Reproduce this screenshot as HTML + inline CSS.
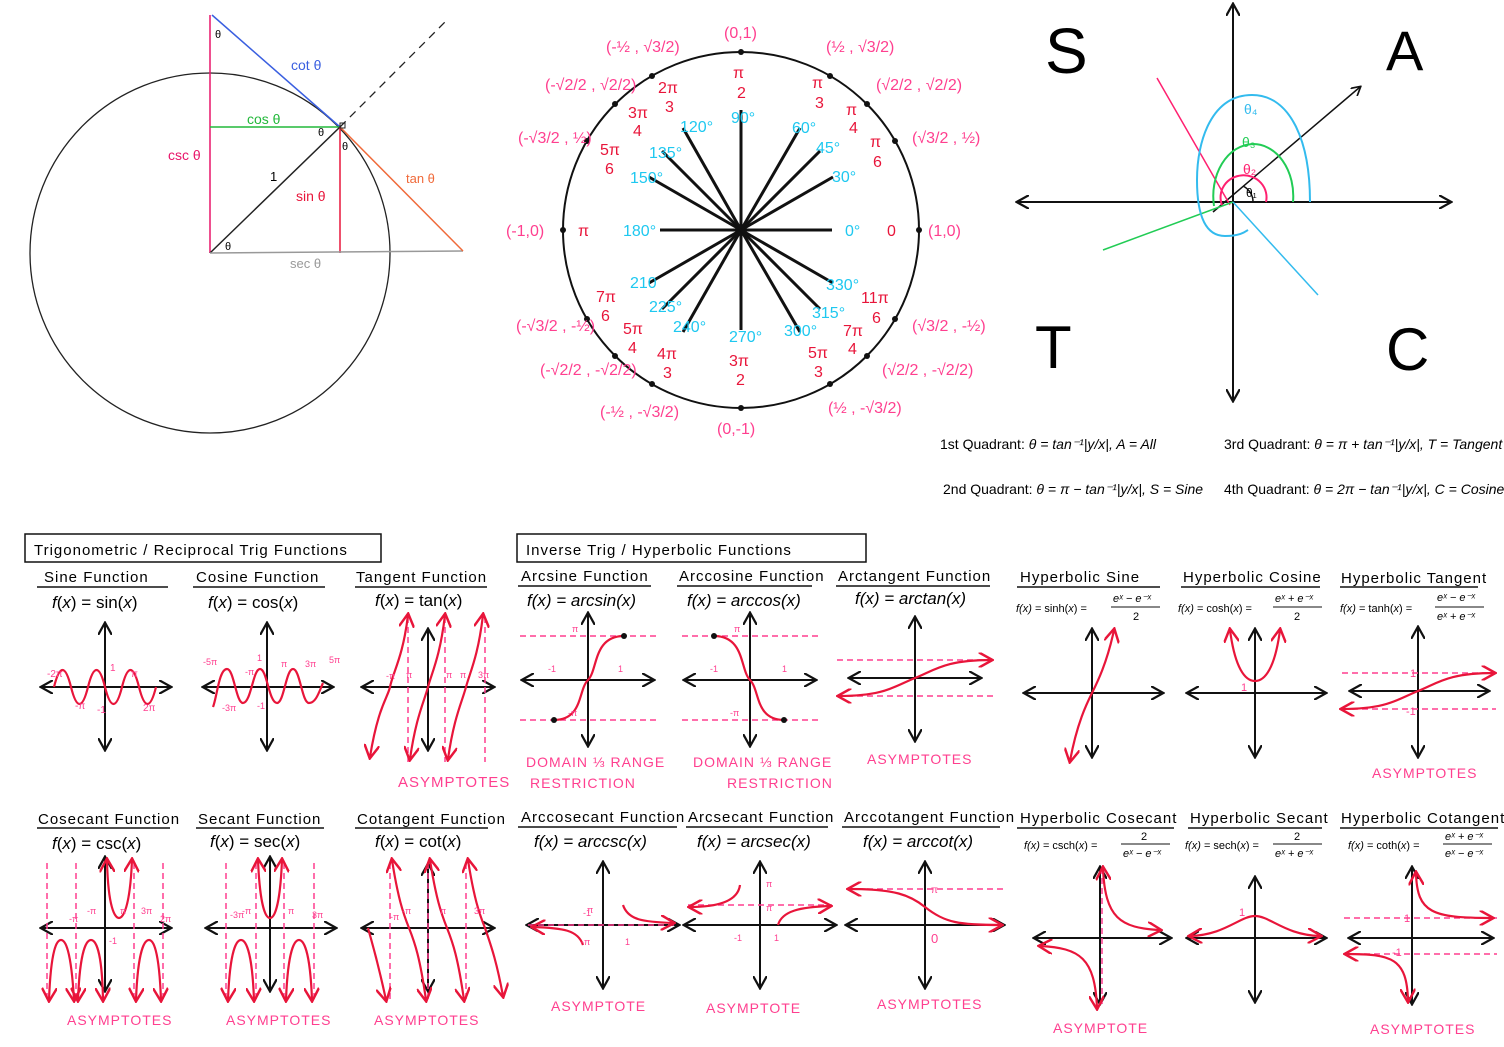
<!DOCTYPE html>
<html><head><meta charset="utf-8"><style>
body{margin:0;background:#fff;}
svg{display:block;}
text{font-family:"Liberation Sans",sans-serif;}
.s{font-family:"Liberation Serif",serif;}
.h{font-size:15px;letter-spacing:1px;}
.f{font-family:"Liberation Serif",serif;font-size:17px;}
.p{fill:#ff3f8f;}
.r{fill:#e8153a;}
.b{fill:#1ec8f0;}
.ax{stroke:#111;stroke-width:2;fill:none;marker-end:url(#ak);marker-start:url(#ak);}
.cv{stroke:#e8153a;stroke-width:2.2;fill:none;}
.as{stroke:#ff3f8f;stroke-width:1.5;stroke-dasharray:6 4;fill:none;}
.ul{stroke:#111;stroke-width:1.5;}
</style></head><body>
<svg width="1504" height="1047" viewBox="0 0 1504 1047" xmlns="http://www.w3.org/2000/svg">
<defs>
<marker id="ak" viewBox="0 0 10 10" refX="8" refY="5" markerWidth="7" markerHeight="7" orient="auto-start-reverse"><path d="M0,0 L9,5 L0,10" fill="none" stroke="#111" stroke-width="1.6"/></marker>
<marker id="ar" viewBox="0 0 10 10" refX="8" refY="5" markerWidth="7" markerHeight="7" orient="auto-start-reverse"><path d="M0,0 L9,5 L0,10" fill="none" stroke="#e8153a" stroke-width="1.6"/></marker>
</defs>

<!-- ===== Section 1 ===== -->
<circle cx="210" cy="253" r="180" fill="none" stroke="#222" stroke-width="1.3"/>
<line x1="210" y1="15" x2="210" y2="253" stroke="#e8156a" stroke-width="1.5"/>
<line x1="212" y1="15" x2="340" y2="127" stroke="#3a5fe0" stroke-width="1.5"/>
<line x1="210" y1="127" x2="340" y2="127" stroke="#22b83a" stroke-width="1.5"/>
<line x1="210" y1="253" x2="340" y2="127" stroke="#222" stroke-width="1.5"/>
<line x1="340" y1="127" x2="340" y2="253" stroke="#e8153a" stroke-width="1.5"/>
<line x1="210" y1="253" x2="463" y2="251" stroke="#999" stroke-width="1.5"/>
<line x1="340" y1="127" x2="463" y2="251" stroke="#f06a3a" stroke-width="1.5"/>
<line x1="340" y1="127" x2="447" y2="20" stroke="#222" stroke-width="1.3" stroke-dasharray="8 6"/>
<rect x="340" y="123" width="5" height="5" fill="none" stroke="#222"/>
<text x="215" y="38" font-size="11">θ</text>
<text x="291" y="70" font-size="14" fill="#3a5fe0">cot θ</text>
<text x="247" y="124" font-size="14" fill="#22b83a">cos θ</text>
<text x="318" y="136" font-size="11">θ</text>
<text x="342" y="150" font-size="11">θ</text>
<text x="168" y="160" font-size="14" fill="#e8156a">csc θ</text>
<text x="270" y="181" font-size="13">1</text>
<text x="296" y="201" font-size="14" fill="#e8153a">sin θ</text>
<text x="406" y="183" font-size="13" fill="#f06a3a">tan θ</text>
<text x="225" y="250" font-size="11">θ</text>
<text x="290" y="268" font-size="13" fill="#999">sec θ</text>

<!-- ===== Section 2 ===== -->
<circle cx="741" cy="230" r="178" fill="none" stroke="#111" stroke-width="2"/>
<g stroke="#111" stroke-width="3">
<line x1="741" y1="230" x2="741" y2="110"/>
<line x1="741" y1="230" x2="741" y2="330"/>
<line x1="741" y1="230" x2="832" y2="230"/>
<line x1="741" y1="230" x2="660" y2="230"/>
<line x1="741" y1="230" x2="833" y2="177"/>
<line x1="741" y1="230" x2="820" y2="151"/>
<line x1="741" y1="230" x2="800" y2="128"/>
<line x1="741" y1="230" x2="683" y2="128"/>
<line x1="741" y1="230" x2="662" y2="151"/>
<line x1="741" y1="230" x2="649" y2="177"/>
<line x1="741" y1="230" x2="649" y2="283"/>
<line x1="741" y1="230" x2="662" y2="309"/>
<line x1="741" y1="230" x2="683" y2="332"/>
<line x1="741" y1="230" x2="800" y2="332"/>
<line x1="741" y1="230" x2="820" y2="309"/>
<line x1="741" y1="230" x2="833" y2="283"/>
</g>
<g fill="#111">
<circle cx="741" cy="52" r="3"/><circle cx="741" cy="408" r="3"/><circle cx="563" cy="230" r="3"/><circle cx="919" cy="230" r="3"/>
<circle cx="895" cy="141" r="3"/><circle cx="867" cy="104" r="3"/><circle cx="830" cy="76" r="3"/>
<circle cx="652" cy="76" r="3"/><circle cx="615" cy="104" r="3"/><circle cx="587" cy="141" r="3"/>
<circle cx="587" cy="319" r="3"/><circle cx="615" cy="356" r="3"/><circle cx="652" cy="384" r="3"/>
<circle cx="830" cy="384" r="3"/><circle cx="867" cy="356" r="3"/><circle cx="895" cy="319" r="3"/>
</g>
<g font-size="16" class="b">
<text x="731" y="123">90°</text><text x="680" y="132">120°</text><text x="649" y="158">135°</text><text x="630" y="183">150°</text>
<text x="623" y="236">180°</text><text x="630" y="288">210</text><text x="649" y="312">225°</text><text x="673" y="332">240°</text>
<text x="729" y="342">270°</text><text x="784" y="336">300°</text><text x="812" y="318">315°</text><text x="826" y="290">330°</text>
<text x="845" y="236">0°</text><text x="832" y="182">30°</text><text x="816" y="153">45°</text><text x="792" y="133">60°</text>
</g>
<g font-size="16" class="r s">
<text x="733" y="78">π</text><text x="737" y="98">2</text>
<text x="812" y="88">π</text><text x="815" y="108">3</text>
<text x="846" y="115">π</text><text x="849" y="133">4</text>
<text x="870" y="147">π</text><text x="873" y="167">6</text>
<text x="887" y="236">0</text><text x="578" y="236">π</text>
<text x="658" y="93">2π</text><text x="665" y="112">3</text>
<text x="628" y="118">3π</text><text x="633" y="136">4</text>
<text x="600" y="155">5π</text><text x="605" y="174">6</text>
<text x="596" y="302">7π</text><text x="601" y="321">6</text>
<text x="623" y="334">5π</text><text x="628" y="353">4</text>
<text x="657" y="359">4π</text><text x="663" y="378">3</text>
<text x="729" y="366">3π</text><text x="736" y="385">2</text>
<text x="808" y="358">5π</text><text x="814" y="377">3</text>
<text x="843" y="336">7π</text><text x="848" y="354">4</text>
<text x="861" y="303">11π</text><text x="872" y="323">6</text>
</g>
<g font-size="16" class="p">
<text x="724" y="38">(0,1)</text><text x="717" y="434">(0,-1)</text><text x="506" y="236">(-1,0)</text><text x="928" y="236">(1,0)</text>
<text x="606" y="52">(-½ , √3/2)</text><text x="826" y="52">(½ , √3/2)</text>
<text x="545" y="90">(-√2/2 , √2/2)</text><text x="876" y="90">(√2/2 , √2/2)</text>
<text x="518" y="143">(-√3/2 , ½)</text><text x="912" y="143">(√3/2 , ½)</text>
<text x="516" y="331">(-√3/2 , -½)</text><text x="912" y="331">(√3/2 , -½)</text>
<text x="540" y="375">(-√2/2 , -√2/2)</text><text x="882" y="375">(√2/2 , -√2/2)</text>
<text x="600" y="417">(-½ , -√3/2)</text><text x="828" y="413">(½ , -√3/2)</text>
</g>

<!-- ===== Section 3 ===== -->
<line x1="1018" y1="202" x2="1450" y2="202" class="ax"/>
<line x1="1233" y1="5" x2="1233" y2="400" class="ax"/>
<text x="1045" y="73" font-size="64">S</text>
<text x="1386" y="70" font-size="56">A</text>
<text x="1035" y="368" font-size="60">T</text>
<text x="1386" y="370" font-size="60">C</text>
<line x1="1213" y1="212" x2="1360" y2="87" stroke="#111" stroke-width="1.5" marker-end="url(#ak)"/>
<line x1="1230" y1="205" x2="1157" y2="78" stroke="#ff2070" stroke-width="1.5"/>
<line x1="1233" y1="202" x2="1103" y2="250" stroke="#22cc55" stroke-width="1.5"/>
<line x1="1233" y1="202" x2="1318" y2="295" stroke="#33bbee" stroke-width="1.5"/>
<path d="M1253,202 A20,18 0 0 0 1243,186" stroke="#111" stroke-width="1.5" fill="none"/>
<path d="M1266,202 A23,22 0 1 0 1222,205" stroke="#ff2070" stroke-width="2" fill="none"/>
<path d="M1293,202 A40,52 0 1 0 1214,206" stroke="#22cc55" stroke-width="2" fill="none"/>
<path d="M1310,202 C1310,140 1290,95 1252,95 C1212,95 1197,140 1197,180 C1197,215 1205,236 1225,236 C1240,236 1245,232 1248,230" stroke="#33bbee" stroke-width="2" fill="none"/>
<text x="1244" y="114" font-size="14" fill="#33bbee">θ₄</text>
<text x="1242" y="147" font-size="14" fill="#22cc55">θ₃</text>
<text x="1243" y="174" font-size="14" fill="#ff2070">θ₂</text>
<text x="1246" y="197" font-size="12">θ₁</text>
<g class="s" font-size="14" font-style="italic">
<text x="940" y="449"><tspan font-style="normal">1st Quadrant:</tspan> θ = tan⁻¹|y/x|, A = All</text>
<text x="1224" y="449"><tspan font-style="normal">3rd Quadrant:</tspan> θ = π + tan⁻¹|y/x|, T = Tangent</text>
<text x="943" y="494"><tspan font-style="normal">2nd Quadrant:</tspan> θ = π − tan⁻¹|y/x|, S = Sine</text>
<text x="1224" y="494"><tspan font-style="normal">4th Quadrant:</tspan> θ = 2π − tan⁻¹|y/x|, C = Cosine</text>
</g>

<!-- ===== Headers ===== -->
<rect x="25" y="534" width="356" height="28" fill="none" stroke="#111" stroke-width="1.5"/>
<text x="34" y="555" class="h" font-size="16">Trigonometric / Reciprocal Trig Functions</text>
<rect x="517" y="534" width="349" height="28" fill="none" stroke="#111" stroke-width="1.5"/>
<text x="526" y="555" class="h" font-size="17">Inverse Trig / Hyperbolic Functions</text>

<g class="h">
<text x="44" y="582">Sine Function</text><text x="196" y="582">Cosine Function</text><text x="356" y="582">Tangent Function</text>
<text x="521" y="581">Arcsine Function</text><text x="679" y="581">Arccosine Function</text><text x="838" y="581">Arctangent Function</text>
<text x="1020" y="582">Hyperbolic Sine</text><text x="1183" y="582">Hyperbolic Cosine</text><text x="1341" y="583">Hyperbolic Tangent</text>
<text x="38" y="824">Cosecant Function</text><text x="198" y="824">Secant Function</text><text x="357" y="824">Cotangent Function</text>
<text x="521" y="822">Arccosecant Function</text><text x="688" y="822">Arcsecant Function</text><text x="844" y="822">Arccotangent Function</text>
<text x="1020" y="823">Hyperbolic Cosecant</text><text x="1190" y="823">Hyperbolic Secant</text><text x="1341" y="823">Hyperbolic Cotangent</text>
</g>
<g class="ul">
<line x1="37" y1="587" x2="168" y2="587"/><line x1="193" y1="587" x2="325" y2="587"/><line x1="355" y1="587" x2="487" y2="587"/>
<line x1="518" y1="586" x2="651" y2="586"/><line x1="677" y1="586" x2="812" y2="586"/><line x1="836" y1="586" x2="990" y2="586"/>
<line x1="1017" y1="587" x2="1160" y2="587"/><line x1="1181" y1="587" x2="1320" y2="587"/><line x1="1340" y1="587" x2="1478" y2="587"/>
<line x1="37" y1="828" x2="170" y2="828"/><line x1="196" y1="828" x2="324" y2="828"/><line x1="355" y1="828" x2="488" y2="828"/>
<line x1="518" y1="827" x2="677" y2="827"/><line x1="686" y1="827" x2="828" y2="827"/><line x1="842" y1="827" x2="1000" y2="827"/>
<line x1="1017" y1="828" x2="1174" y2="828"/><line x1="1188" y1="828" x2="1322" y2="828"/><line x1="1340" y1="828" x2="1498" y2="828"/>
</g>
<g class="f">
<text x="52" y="608"><tspan font-style="italic">f</tspan>(<tspan font-style="italic">x</tspan>) = sin(<tspan font-style="italic">x</tspan>)</text>
<text x="208" y="608"><tspan font-style="italic">f</tspan>(<tspan font-style="italic">x</tspan>) = cos(<tspan font-style="italic">x</tspan>)</text>
<text x="375" y="606"><tspan font-style="italic">f</tspan>(<tspan font-style="italic">x</tspan>) = tan(<tspan font-style="italic">x</tspan>)</text>
<text x="527" y="606" font-style="italic">f(x) = arcsin(x)</text>
<text x="687" y="606" font-style="italic">f(x) = arccos(x)</text>
<text x="855" y="604" font-style="italic">f(x) = arctan(x)</text>
<text x="52" y="849"><tspan font-style="italic">f</tspan>(<tspan font-style="italic">x</tspan>) = csc(<tspan font-style="italic">x</tspan>)</text>
<text x="210" y="847"><tspan font-style="italic">f</tspan>(<tspan font-style="italic">x</tspan>) = sec(<tspan font-style="italic">x</tspan>)</text>
<text x="375" y="847"><tspan font-style="italic">f</tspan>(<tspan font-style="italic">x</tspan>) = cot(<tspan font-style="italic">x</tspan>)</text>
<text x="534" y="847" font-style="italic">f(x) = arccsc(x)</text>
<text x="697" y="847" font-style="italic">f(x) = arcsec(x)</text>
<text x="863" y="847" font-style="italic">f(x) = arccot(x)</text>
</g>
<g class="s" font-size="11">
<text x="1016" y="612"><tspan font-style="italic">f(x)</tspan> = sinh(<tspan font-style="italic">x</tspan>) = </text><text x="1113" y="602" font-style="italic">eˣ − e⁻ˣ</text><line x1="1111" y1="607" x2="1160" y2="607" stroke="#111"/><text x="1133" y="620">2</text>
<text x="1178" y="612"><tspan font-style="italic">f(x)</tspan> = cosh(<tspan font-style="italic">x</tspan>) = </text><text x="1275" y="602" font-style="italic">eˣ + e⁻ˣ</text><line x1="1273" y1="607" x2="1322" y2="607" stroke="#111"/><text x="1294" y="620">2</text>
<text x="1340" y="612"><tspan font-style="italic">f(x)</tspan> = tanh(<tspan font-style="italic">x</tspan>) = </text><text x="1437" y="601" font-style="italic">eˣ − e⁻ˣ</text><line x1="1435" y1="607" x2="1484" y2="607" stroke="#111"/><text x="1437" y="620" font-style="italic">eˣ + e⁻ˣ</text>
<text x="1024" y="849"><tspan font-style="italic">f(x)</tspan> = csch(<tspan font-style="italic">x</tspan>) = </text><line x1="1121" y1="844" x2="1170" y2="844" stroke="#111"/><text x="1141" y="840">2</text><text x="1123" y="857" font-style="italic">eˣ − e⁻ˣ</text>
<text x="1185" y="849"><tspan font-style="italic">f(x)</tspan> = sech(<tspan font-style="italic">x</tspan>) = </text><line x1="1273" y1="844" x2="1322" y2="844" stroke="#111"/><text x="1294" y="840">2</text><text x="1275" y="857" font-style="italic">eˣ + e⁻ˣ</text>
<text x="1348" y="849"><tspan font-style="italic">f(x)</tspan> = coth(<tspan font-style="italic">x</tspan>) = </text><text x="1445" y="840" font-style="italic">eˣ + e⁻ˣ</text><line x1="1443" y1="844" x2="1492" y2="844" stroke="#111"/><text x="1445" y="857" font-style="italic">eˣ − e⁻ˣ</text>
</g>

<!-- sine -->
<g transform="translate(105,687)">
<line x1="-63" y1="0" x2="65" y2="0" class="ax"/><line x1="0" y1="-63" x2="0" y2="62" class="ax"/>
<path d="M-51,0 q8.5,34 17,0 t17,0 t17,0 t17,0 t17,0 t17,0" class="cv" transform="scale(1,-1)"/>
<g font-size="10" class="p"><text x="-58" y="-10">-2π</text><text x="-30" y="22">-π</text><text x="5" y="-16">1</text><text x="-8" y="26">-1</text><text x="26" y="-10">π</text><text x="38" y="24">2π</text></g>
</g>
<!-- cosine -->
<g transform="translate(267,687)">
<line x1="-63" y1="0" x2="65" y2="0" class="ax"/><line x1="0" y1="-63" x2="0" y2="62" class="ax"/>
<path d="M-54,20 C-50,10 -48,-18 -40,-18 C-33,-18 -31,16 -24,16 C-16,16 -14,-18 -7,-18 C0,-18 2,16 10,16 C17,16 19,-18 26,-18 C33,-18 35,16 42,16 C49,16 52,5 56,-4" class="cv"/>
<g font-size="9" class="p"><text x="-64" y="-22">-5π</text><text x="-22" y="-12">-π</text><text x="-10" y="-26">1</text><text x="14" y="-20">π</text><text x="38" y="-20">3π</text><text x="62" y="-24">5π</text><text x="-45" y="24">-3π</text><text x="-10" y="22">-1</text></g>
</g>
<!-- tangent -->
<g transform="translate(428,687)">
<line x1="-65" y1="0" x2="65" y2="0" class="ax"/><line x1="0" y1="-57" x2="0" y2="62" class="ax"/>
<path d="M-20,-70 V75 M17,-70 V75 M57,-70 V75" class="as"/>
<path d="M-58,70 C-50,20 -40,10 -38,0 C-35,-15 -25,-30 -20,-72" class="cv" marker-end="url(#ar)" marker-start="url(#ar)"/>
<path d="M-18,72 C-12,30 -4,15 0,0 C4,-15 12,-30 17,-72" class="cv" marker-end="url(#ar)" marker-start="url(#ar)"/>
<path d="M20,72 C26,30 34,15 38,0 C42,-15 50,-30 55,-72" class="cv" marker-end="url(#ar)" marker-start="url(#ar)"/>
<g font-size="9" class="p"><text x="-42" y="-8">-π</text><text x="-22" y="-9">π</text><text x="18" y="-9">π</text><text x="32" y="-9">π</text><text x="50" y="-9">3π</text></g>
<text x="-30" y="100" class="p" font-size="15" letter-spacing="1">ASYMPTOTES</text>
</g>
<!-- arcsin -->
<g transform="translate(588,680)">
<line x1="-65" y1="0" x2="65" y2="0" class="ax"/><line x1="0" y1="-66" x2="0" y2="65" class="ax"/>
<path d="M-68,-44 H70 M-68,40 H70" class="as"/>
<path d="M-34,40 C-5,40 -10,10 0,0 C10,-10 5,-44 36,-44" class="cv"/>
<circle cx="-34" cy="40" r="3" fill="#111"/><circle cx="36" cy="-44" r="3" fill="#111"/>
<g font-size="9" class="p"><text x="-16" y="-48">π</text><text x="-40" y="-8">-1</text><text x="30" y="-8">1</text><text x="-20" y="36">-π</text></g>
<text x="-62" y="87" class="p" font-size="14" letter-spacing="1">DOMAIN ⅓ RANGE</text>
<text x="-58" y="108" class="p" font-size="14" letter-spacing="1">RESTRICTION</text>
</g>
<!-- arccos -->
<g transform="translate(750,680)">
<line x1="-65" y1="0" x2="65" y2="0" class="ax"/><line x1="0" y1="-66" x2="0" y2="65" class="ax"/>
<path d="M-68,-44 H70 M-68,40 H70" class="as"/>
<path d="M-36,-44 C-5,-44 -10,-10 0,0 C10,10 5,40 34,40" class="cv"/>
<circle cx="-36" cy="-44" r="3" fill="#111"/><circle cx="34" cy="40" r="3" fill="#111"/>
<g font-size="9" class="p"><text x="-16" y="-48">π</text><text x="-40" y="-8">-1</text><text x="32" y="-8">1</text><text x="-20" y="36">-π</text></g>
<text x="-57" y="87" class="p" font-size="14" letter-spacing="1">DOMAIN ⅓ RANGE</text>
<text x="-23" y="108" class="p" font-size="14" letter-spacing="1">RESTRICTION</text>
</g>
<!-- arctan -->
<g transform="translate(915,678)">
<line x1="-65" y1="0" x2="65" y2="0" class="ax"/><line x1="0" y1="-60" x2="0" y2="62" class="ax"/>
<path d="M-78,-18 H78 M-78,18 H78" class="as"/>
<path d="M-76,18 C-30,18 -20,8 0,0 C20,-8 30,-18 76,-18" class="cv" marker-end="url(#ar)" marker-start="url(#ar)"/>
<text x="-48" y="86" class="p" font-size="14" letter-spacing="1">ASYMPTOTES</text>
</g>
<!-- sinh -->
<g transform="translate(1092,693)">
<line x1="-67" y1="0" x2="70" y2="0" class="ax"/><line x1="0" y1="-63" x2="0" y2="63" class="ax"/>
<path d="M-22,68 C-15,30 -5,10 0,0 C5,-10 15,-30 22,-63" class="cv" marker-end="url(#ar)" marker-start="url(#ar)"/>
</g>
<!-- cosh -->
<g transform="translate(1255,693)">
<line x1="-67" y1="0" x2="70" y2="0" class="ax"/><line x1="0" y1="-63" x2="0" y2="63" class="ax"/>
<path d="M-25,-63 C-20,-25 -10,-12 0,-12 C10,-12 20,-25 25,-63" class="cv" marker-end="url(#ar)" marker-start="url(#ar)"/>
<text x="-14" y="-2" font-size="11" class="p">1</text>
</g>
<!-- tanh -->
<g transform="translate(1418,691)">
<line x1="-67" y1="0" x2="70" y2="0" class="ax"/><line x1="0" y1="-63" x2="0" y2="65" class="ax"/>
<path d="M-76,-18 H78 M-76,18 H78" class="as"/>
<path d="M-76,18 C-30,18 -20,8 0,0 C20,-8 30,-18 76,-18" class="cv" marker-end="url(#ar)" marker-start="url(#ar)"/>
<text x="-8" y="-14" font-size="11" class="p">1</text><text x="-12" y="24" font-size="11" class="p">-1</text>
<text x="-46" y="87" class="p" font-size="14" letter-spacing="1">ASYMPTOTES</text>
</g>

<!-- csc -->
<g transform="translate(105,928)">
<line x1="-63" y1="0" x2="65" y2="0" class="ax"/><line x1="0" y1="-70" x2="0" y2="62" class="ax"/>
<path d="M-58,-65 V75 M-29,-65 V75 M29,-65 V75 M58,-65 V75" class="as"/>
<path d="M-27,72 C-25,20 -18,12 -14,12 C-10,12 -3,20 -2,72" class="cv" marker-end="url(#ar)" marker-start="url(#ar)"/>
<path d="M2,-68 C3,-20 10,-10 14,-10 C18,-10 25,-20 27,-68" class="cv" marker-end="url(#ar)" marker-start="url(#ar)"/>
<path d="M31,72 C33,20 40,12 44,12 C48,12 54,20 56,72" class="cv" marker-end="url(#ar)" marker-start="url(#ar)"/>
<path d="M-56,72 C-54,20 -48,12 -44,12 C-40,12 -34,20 -31,72" class="cv" marker-end="url(#ar)" marker-start="url(#ar)"/>
<g font-size="9" class="p"><text x="-36" y="-6">-π</text><text x="-18" y="-14">-π</text><text x="15" y="-14">π</text><text x="36" y="-14">3π</text><text x="55" y="-6">2π</text><text x="4" y="16">-1</text></g>
<text x="-38" y="97" class="p" font-size="14" letter-spacing="1">ASYMPTOTES</text>
</g>
<!-- sec -->
<g transform="translate(270,928)">
<line x1="-63" y1="0" x2="65" y2="0" class="ax"/><line x1="0" y1="-70" x2="0" y2="62" class="ax"/>
<path d="M-44,-65 V75 M-14,-65 V75 M14,-65 V75 M44,-65 V75" class="as"/>
<path d="M-12,-68 C-10,-20 -4,-10 0,-10 C4,-10 10,-20 12,-68" class="cv" marker-end="url(#ar)" marker-start="url(#ar)"/>
<path d="M-42,72 C-40,20 -33,12 -29,12 C-25,12 -18,20 -16,72" class="cv" marker-end="url(#ar)" marker-start="url(#ar)"/>
<path d="M16,72 C18,20 25,12 29,12 C33,12 40,20 42,72" class="cv" marker-end="url(#ar)" marker-start="url(#ar)"/>
<g font-size="9" class="p"><text x="-40" y="-10">-3π</text><text x="-28" y="-14">-π</text><text x="18" y="-14">π</text><text x="42" y="-10">3π</text></g>
<text x="-44" y="97" class="p" font-size="14" letter-spacing="1">ASYMPTOTES</text>
</g>
<!-- cot -->
<g transform="translate(428,928)">
<line x1="-65" y1="0" x2="65" y2="0" class="ax"/><line x1="0" y1="-63" x2="0" y2="62" class="ax"/>
<path d="M-38,-65 V75 M0,-65 V75 M38,-65 V75" class="as"/>
<path d="M-36,-68 C-30,-30 -25,-15 -19,0 C-13,15 -8,30 -2,72" class="cv" marker-end="url(#ar)" marker-start="url(#ar)"/>
<path d="M2,-68 C8,-30 13,-15 19,0 C25,15 30,30 36,72" class="cv" marker-end="url(#ar)" marker-start="url(#ar)"/>
<path d="M40,-68 C46,-30 51,-15 57,0 C62,15 68,30 75,68" class="cv" marker-start="url(#ar)" marker-end="url(#ar)"/>
<path d="M-60,0 C-56,15 -51,30 -42,72" class="cv" marker-end="url(#ar)"/>
<g font-size="9" class="p"><text x="-38" y="-8">-π</text><text x="-26" y="-14">-π</text><text x="12" y="-14">π</text><text x="46" y="-14">3π</text></g>
<text x="-54" y="97" class="p" font-size="14" letter-spacing="1">ASYMPTOTES</text>
</g>
<!-- arccsc -->
<g transform="translate(603,925)">
<line x1="-75" y1="0" x2="75" y2="0" class="ax"/><line x1="0" y1="-62" x2="0" y2="62" class="ax"/>
<path d="M-75,0 H75" class="as"/>
<path d="M-70,2 C-40,3 -25,5 -20,20" class="cv" marker-start="url(#ar)"/>
<path d="M20,-20 C25,-5 40,-3 70,-2" class="cv" marker-end="url(#ar)"/>
<g font-size="9" class="p"><text x="-16" y="-12">π</text><text x="-20" y="-9">-1</text><text x="22" y="20">1</text><text x="-22" y="20">-π</text></g>
<text x="-52" y="86" class="p" font-size="14" letter-spacing="1">ASYMPTOTE</text>
</g>
<!-- arcsec -->
<g transform="translate(760,925)">
<line x1="-75" y1="0" x2="75" y2="0" class="ax"/><line x1="0" y1="-62" x2="0" y2="62" class="ax"/>
<path d="M-72,-20 H72" class="as"/>
<path d="M-70,-18 C-40,-18 -22,-25 -20,-40" class="cv" marker-start="url(#ar)"/>
<path d="M18,0 C22,-14 40,-18 70,-19" class="cv" marker-end="url(#ar)"/>
<g font-size="9" class="p"><text x="6" y="-38">π</text><text x="6" y="-14">π</text><text x="-26" y="16">-1</text><text x="14" y="16">1</text></g>
<text x="-54" y="88" class="p" font-size="14" letter-spacing="1">ASYMPTOTE</text>
</g>
<!-- arccot -->
<g transform="translate(925,925)">
<line x1="-78" y1="0" x2="78" y2="0" class="ax"/><line x1="0" y1="-62" x2="0" y2="62" class="ax"/>
<path d="M-78,-36 H78" class="as"/>
<path d="M-76,-36 C-30,-36 -15,-30 0,-18 C20,-2 35,0 76,0" class="cv" marker-end="url(#ar)" marker-start="url(#ar)"/>
<text x="6" y="-32" font-size="10" class="p">π</text><text x="6" y="18" font-size="13" class="p">0</text>
<text x="-48" y="84" class="p" font-size="14" letter-spacing="1">ASYMPTOTES</text>
</g>
<!-- csch -->
<g transform="translate(1100,938)">
<line x1="-65" y1="0" x2="70" y2="0" class="ax"/><line x1="0" y1="-70" x2="0" y2="65" class="ax"/>
<path d="M2,-70 V70" class="as"/>
<path d="M3,-70 C5,-20 20,-10 60,-8" class="cv" marker-end="url(#ar)" marker-start="url(#ar)"/>
<path d="M-60,8 C-20,10 -5,20 -3,70" class="cv" marker-end="url(#ar)" marker-start="url(#ar)"/>
<text x="-47" y="95" class="p" font-size="14" letter-spacing="1">ASYMPTOTE</text>
</g>
<!-- sech -->
<g transform="translate(1255,938)">
<line x1="-67" y1="0" x2="70" y2="0" class="ax"/><line x1="0" y1="-60" x2="0" y2="63" class="ax"/>
<path d="M-65,-2 C-30,-3 -15,-22 0,-22 C15,-22 30,-3 65,-2" class="cv" marker-end="url(#ar)" marker-start="url(#ar)"/>
<text x="-16" y="-22" font-size="11" class="p">1</text>
</g>
<!-- coth -->
<g transform="translate(1412,938)">
<line x1="-62" y1="0" x2="80" y2="0" class="ax"/><line x1="0" y1="-70" x2="0" y2="65" class="ax"/>
<path d="M-68,-20 H85 M-68,16 H85" class="as"/>
<path d="M4,-65 C5,-25 20,-20 80,-20" class="cv" marker-end="url(#ar)" marker-start="url(#ar)"/>
<path d="M-66,16 C-20,16 -5,20 -4,63" class="cv" marker-end="url(#ar)" marker-start="url(#ar)"/>
<text x="-8" y="-16" font-size="11" class="p">1</text><text x="-20" y="18" font-size="11" class="p">-1</text>
<text x="-42" y="96" class="p" font-size="14" letter-spacing="1">ASYMPTOTES</text>
</g>
</svg>
</body></html>
